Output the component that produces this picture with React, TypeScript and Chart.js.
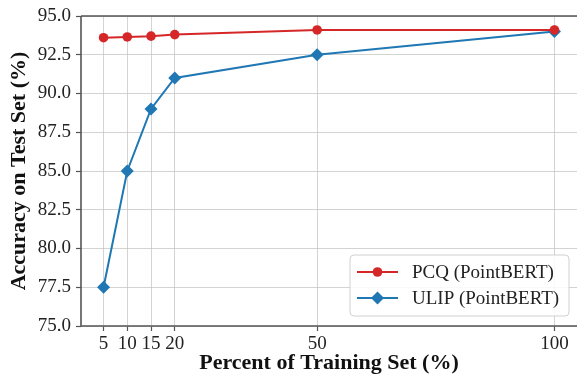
import React, { useEffect, useRef } from "react";
import { Chart, registerables } from "chart.js";

Chart.register(...registerables);

const percents = [5, 10, 15, 20, 50, 100];
const pcqAcc = [93.6, 93.65, 93.7, 93.8, 94.1, 94.1];
const ulipAcc = [77.5, 85.0, 89.0, 91.0, 92.5, 94.0];
const xTicks = [5, 10, 15, 20, 50, 100];
const yTicks = [75, 77.5, 80, 82.5, 85, 87.5, 90, 92.5, 95];
const seriesNames = ["PCQ (PointBERT)", "ULIP (PointBERT)"];

const RED = "#d62728";
const BLUE = "#1f77b4";
const SPINE = "#555555";
const FONT = "'Liberation Serif', 'Times New Roman', serif";

const spinePlugin = {
  id: "spines",
  afterDatasetsDraw(chart: any) {
    const { ctx, chartArea: a } = chart;
    ctx.save();
    ctx.strokeStyle = SPINE;
    ctx.lineWidth = 1.6;
    ctx.beginPath();
    ctx.moveTo(a.left, a.top);
    ctx.lineTo(a.right, a.top);
    ctx.moveTo(a.left, a.top);
    ctx.lineTo(a.left, a.bottom);
    ctx.lineTo(a.right, a.bottom);
    ctx.stroke();
    ctx.restore();
  },
};

const legendPlugin = {
  id: "mplLegend",
  afterDraw(chart: any) {
    const { ctx } = chart;
    const x0 = 350, y0 = 255, w = 219, h = 61, r = 4;
    ctx.save();
    ctx.beginPath();
    ctx.moveTo(x0 + r, y0);
    ctx.arcTo(x0 + w, y0, x0 + w, y0 + h, r);
    ctx.arcTo(x0 + w, y0 + h, x0, y0 + h, r);
    ctx.arcTo(x0, y0 + h, x0, y0, r);
    ctx.arcTo(x0, y0, x0 + w, y0, r);
    ctx.closePath();
    ctx.fillStyle = "rgba(255,255,255,0.85)";
    ctx.fill();
    ctx.strokeStyle = "#d0d0d0";
    ctx.lineWidth = 1;
    ctx.stroke();
    const rows = [
      { y: 272, color: RED, style: "circle" },
      { y: 298, color: BLUE, style: "diamond" },
    ];
    rows.forEach((row, i) => {
      ctx.strokeStyle = row.color;
      ctx.lineWidth = 2;
      ctx.beginPath();
      ctx.moveTo(357, row.y);
      ctx.lineTo(398, row.y);
      ctx.stroke();
      ctx.fillStyle = row.color;
      ctx.beginPath();
      if (row.style === "circle") {
        ctx.arc(377.5, row.y, 4.8, 0, Math.PI * 2);
      } else {
        const s = 6.5;
        ctx.moveTo(377.5, row.y - s);
        ctx.lineTo(377.5 + s, row.y);
        ctx.lineTo(377.5, row.y + s);
        ctx.lineTo(377.5 - s, row.y);
        ctx.closePath();
      }
      ctx.fill();
      ctx.fillStyle = "#222";
      ctx.font = `19px ${FONT}`;
      ctx.textBaseline = "middle";
      ctx.textAlign = "left";
      ctx.fillText(seriesNames[i], 412, row.y + 1);
    });
    ctx.restore();
  },
};

const gridOpts = {
  color: "#c8c8c8",
  lineWidth: 0.8,
  borderDash: [2.8, 1.4],
  tickColor: SPINE,
  tickLength: 5,
  tickWidth: 1.2,
  tickBorderDash: [],
};

export default function App() {
  const ref = useRef<HTMLCanvasElement | null>(null);
  useEffect(() => {
    if (!ref.current) return;
    const chart = new Chart(ref.current, {
      type: "line",
      data: {
        datasets: [
          {
            label: seriesNames[0],
            data: percents.map((p, i) => ({ x: p, y: pcqAcc[i] })),
            borderColor: RED,
            backgroundColor: RED,
            borderWidth: 2,
            pointStyle: "circle",
            pointRadius: 4.8,
            pointBorderWidth: 0,
            tension: 0,
            clip: false,
          },
          {
            label: seriesNames[1],
            data: percents.map((p, i) => ({ x: p, y: ulipAcc[i] })),
            borderColor: BLUE,
            backgroundColor: BLUE,
            borderWidth: 2,
            pointStyle: "rectRot",
            pointRadius: 6.5,
            pointBorderWidth: 0,
            tension: 0,
            clip: false,
          },
        ],
      },
      options: {
        responsive: false,
        animation: false,
        devicePixelRatio: 1,
        layout: { autoPadding: false, padding: { top: 16, right: 0, left: 0, bottom: 0 } },
        plugins: { legend: { display: false }, tooltip: { enabled: false } },
        scales: {
          x: {
            type: "linear",
            min: 0.25,
            max: 104.75,
            afterBuildTicks: (s: any) => {
              s.ticks = xTicks.map((v) => ({ value: v }));
            },
            afterFit: (s: any) => {
              s.height = 51;
              s.paddingRight = 0;
              s.paddingLeft = 0;
            },
            ticks: {
              autoSkip: false,
              maxRotation: 0,
              color: "#222",
              font: { family: FONT, size: 19 },
              padding: 2,
              callback: (v: any) => String(v),
            },
            grid: gridOpts,
            border: { display: false },
            title: {
              display: true,
              text: "Percent of Training Set (%)",
              color: "#111",
              font: { family: FONT, size: 22, weight: "bold" },
              padding: { top: 0, bottom: 0 },
            },
          },
          y: {
            min: 75,
            max: 95,
            afterBuildTicks: (s: any) => {
              s.ticks = yTicks.map((v) => ({ value: v }));
            },
            afterFit: (s: any) => {
              s.width = 81;
              s.paddingTop = 0;
              s.paddingBottom = 0;
            },
            ticks: {
              color: "#222",
              font: { family: FONT, size: 19 },
              padding: 5,
              callback: (v: any) => Number(v).toFixed(1),
            },
            grid: gridOpts,
            border: { display: false },
            title: {
              display: true,
              text: "Accuracy on Test Set (%)",
              color: "#111",
              font: { family: FONT, size: 22, weight: "bold" },
              padding: { top: 6, bottom: 0 },
            },
          },
        },
      },
      plugins: [spinePlugin, legendPlugin],
    } as any);
    return () => chart.destroy();
  }, []);
  return (
    <div style={{ position: "absolute", left: 0, top: 0, width: 577, height: 377, background: "#fff" }}>
      <canvas ref={ref} width={577} height={377} style={{ display: "block" }} />
    </div>
  );
}
